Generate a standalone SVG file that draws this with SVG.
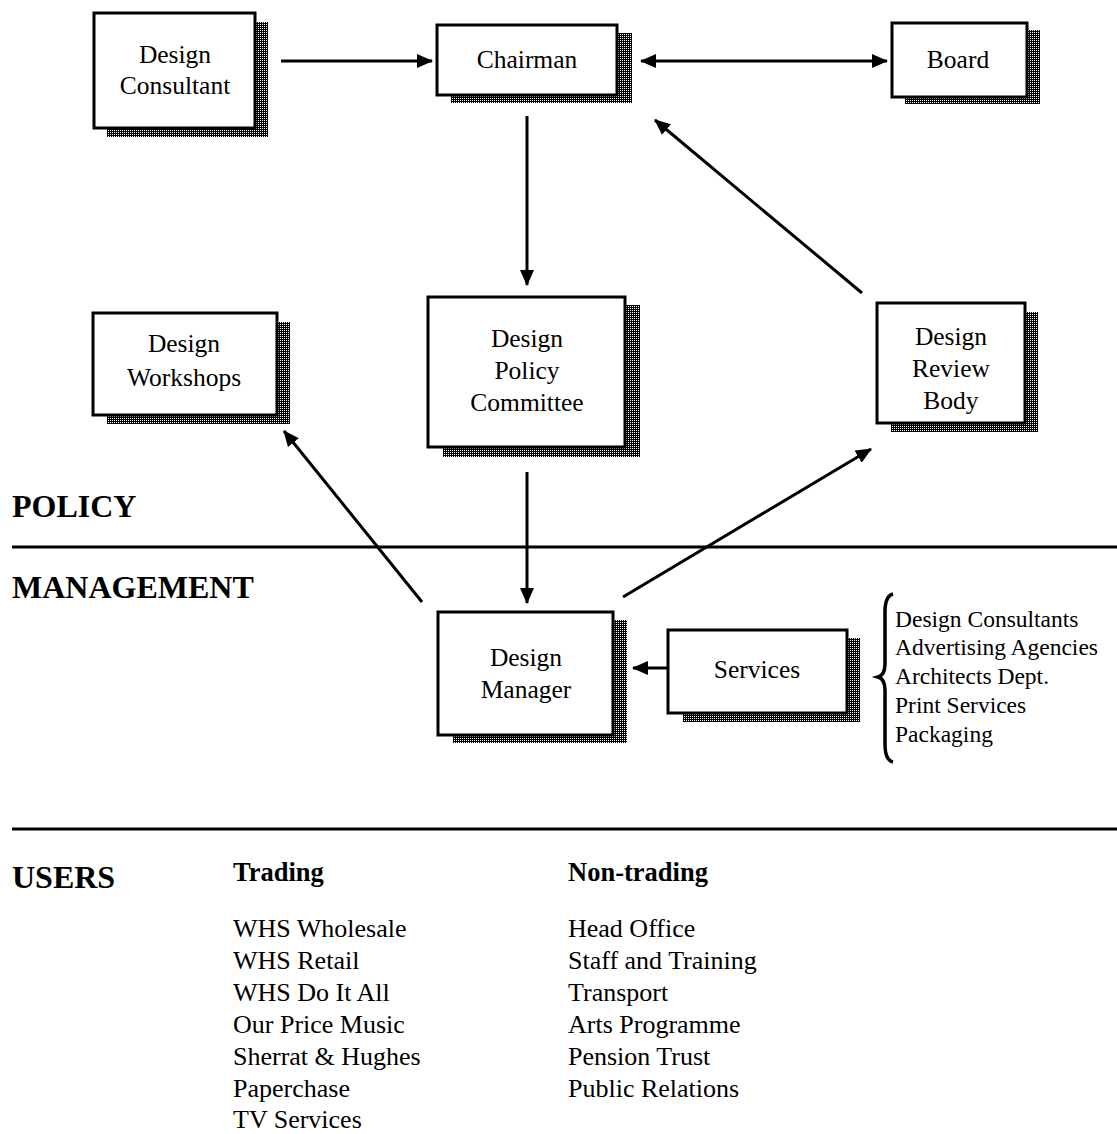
<svg xmlns="http://www.w3.org/2000/svg" width="1117" height="1134" viewBox="0 0 1117 1134">
  <defs>
    <pattern id="dither" width="2" height="2" patternUnits="userSpaceOnUse">
      <rect width="2" height="2" fill="#000"/>
      <rect width="1" height="1" fill="#fff"/>
    </pattern>
    <marker id="arrow" viewBox="0 0 16 14" refX="15" refY="7" markerWidth="16" markerHeight="14" markerUnits="userSpaceOnUse" orient="auto-start-reverse">
      <path d="M0,0 L16,7 L0,14 Z" fill="#000"/>
    </marker>
  </defs>
  <style>
    .shadow { fill: url(#dither); }
    .box { fill: #fff; stroke: #000; stroke-width: 3; }
    .label { font-family: "Liberation Serif", "Times New Roman", serif; font-size: 25.5px; fill: #000; text-anchor: middle; }
    .edge { stroke: #000; stroke-width: 3; fill: none; marker-end: url(#arrow); }
    .rule { stroke: #000; stroke-width: 3; }
    .section { font-family: "Liberation Serif", "Times New Roman", serif; font-size: 32px; font-weight: bold; fill: #000; }
    .head { font-family: "Liberation Serif", "Times New Roman", serif; font-size: 26.5px; font-weight: bold; fill: #000; }
    .item { font-family: "Liberation Serif", "Times New Roman", serif; font-size: 26px; fill: #000; }
    .small { font-family: "Liberation Serif", "Times New Roman", serif; font-size: 23.5px; fill: #000; }
  </style>

  <rect width="1117" height="1134" fill="#fff"/>

  <!-- section dividers -->
  <line class="rule" x1="12" y1="547" x2="1117" y2="547"/>
  <line class="rule" x1="12" y1="829" x2="1117" y2="829"/>
  <text class="section" x="12" y="517">POLICY</text>
  <text class="section" x="12" y="598">MANAGEMENT</text>
  <text class="section" x="12" y="888">USERS</text>

  <!-- connectors -->
  <g id="connectors">
    <line class="edge" x1="281" y1="61" x2="432" y2="61"/>
    <line class="edge" x1="641" y1="61" x2="887" y2="61" style="marker-start:url(#arrow)"/>
    <line class="edge" x1="527" y1="116" x2="527" y2="285"/>
    <line class="edge" x1="862" y1="293" x2="655" y2="120"/>
    <line class="edge" x1="527" y1="472" x2="527" y2="603"/>
    <line class="edge" x1="422" y1="602" x2="284" y2="431"/>
    <line class="edge" x1="623" y1="597" x2="871" y2="449"/>
    <line class="edge" x1="668" y1="668" x2="633" y2="668"/>
  </g>

  <!-- nodes -->
  <g id="design-consultant">
    <rect class="shadow" x="107" y="22" width="161" height="115"/>
    <rect class="box" x="94" y="13" width="161" height="115"/>
    <text class="label" x="175" y="63">Design</text>
    <text class="label" x="175" y="94">Consultant</text>
  </g>
  <g id="chairman">
    <rect class="shadow" x="451" y="33" width="181" height="70"/>
    <rect class="box" x="437" y="25" width="180" height="70"/>
    <text class="label" x="527" y="68">Chairman</text>
  </g>
  <g id="board">
    <rect class="shadow" x="905" y="30" width="135" height="74"/>
    <rect class="box" x="892" y="23" width="135" height="74"/>
    <text class="label" x="958" y="68">Board</text>
  </g>
  <g id="design-workshops">
    <rect class="shadow" x="107" y="322" width="183" height="102"/>
    <rect class="box" x="93" y="313" width="184" height="102"/>
    <text class="label" x="184" y="352">Design</text>
    <text class="label" x="184" y="386">Workshops</text>
  </g>
  <g id="design-policy-committee">
    <rect class="shadow" x="443" y="305" width="197" height="152"/>
    <rect class="box" x="428" y="297" width="197" height="150"/>
    <text class="label" x="527" y="347">Design</text>
    <text class="label" x="527" y="379">Policy</text>
    <text class="label" x="527" y="411">Committee</text>
  </g>
  <g id="design-review-body">
    <rect class="shadow" x="891" y="312" width="147" height="120"/>
    <rect class="box" x="877" y="303" width="148" height="120"/>
    <text class="label" x="951" y="345">Design</text>
    <text class="label" x="951" y="377">Review</text>
    <text class="label" x="951" y="409">Body</text>
  </g>
  <g id="design-manager">
    <rect class="shadow" x="453" y="620" width="174" height="123"/>
    <rect class="box" x="438" y="612" width="175" height="123"/>
    <text class="label" x="526" y="666">Design</text>
    <text class="label" x="526" y="698">Manager</text>
  </g>
  <g id="services">
    <rect class="shadow" x="683" y="638" width="177" height="84"/>
    <rect class="box" x="668" y="630" width="179" height="83"/>
    <text class="label" x="757" y="678">Services</text>
  </g>

  <!-- service providers -->
  <g id="service-list">
    <path d="M893,594 Q885,596 885,612 L885,664 Q885,675 878,677 Q885,679 885,690 L885,744 Q885,760 893,762" fill="none" stroke="#000" stroke-width="3.5"/>
    <text class="small" x="895" y="627">Design Consultants</text>
    <text class="small" x="895" y="655">Advertising Agencies</text>
    <text class="small" x="895" y="684">Architects Dept.</text>
    <text class="small" x="895" y="713">Print Services</text>
    <text class="small" x="895" y="742">Packaging</text>
  </g>

  <!-- users -->
  <g id="users-trading">
    <text class="head" x="233" y="881">Trading</text>
    <text class="item" x="233" y="937">WHS Wholesale</text>
    <text class="item" x="233" y="969">WHS Retail</text>
    <text class="item" x="233" y="1001">WHS Do It All</text>
    <text class="item" x="233" y="1033">Our Price Music</text>
    <text class="item" x="233" y="1065">Sherrat &amp; Hughes</text>
    <text class="item" x="233" y="1097">Paperchase</text>
    <text class="item" x="233" y="1128">TV Services</text>
  </g>
  <g id="users-non-trading">
    <text class="head" x="568" y="881">Non-trading</text>
    <text class="item" x="568" y="937">Head Office</text>
    <text class="item" x="568" y="969">Staff and Training</text>
    <text class="item" x="568" y="1001">Transport</text>
    <text class="item" x="568" y="1033">Arts Programme</text>
    <text class="item" x="568" y="1065">Pension Trust</text>
    <text class="item" x="568" y="1097">Public Relations</text>
  </g>
</svg>
